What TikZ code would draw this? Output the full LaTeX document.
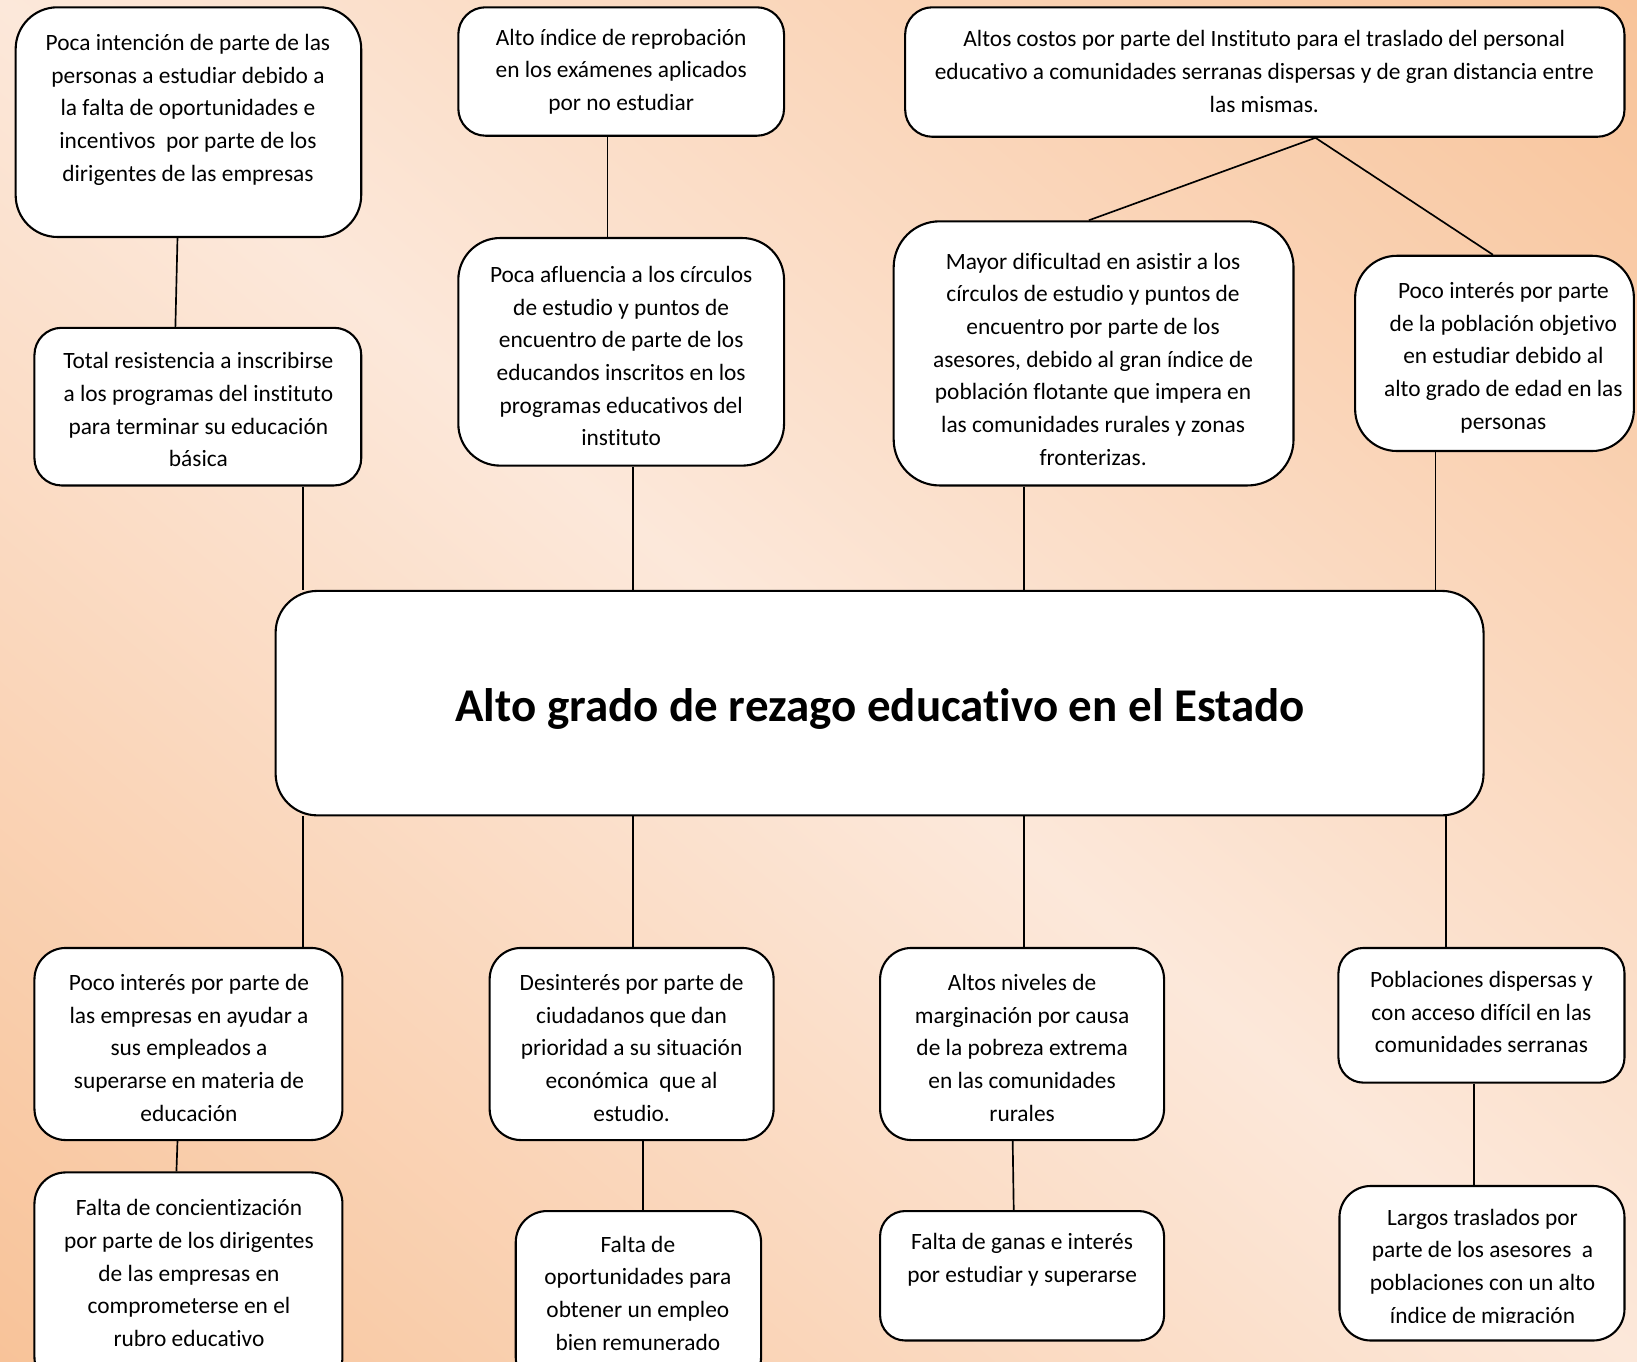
\documentclass[tikz,border=0pt]{standalone}
\usepackage{fontspec}
\setmainfont{Carlito}[Ligatures=NoCommon]
\usetikzlibrary{fit}
\definecolor{bgor}{RGB}{248,195,153}
\definecolor{bglt}{RGB}{252,232,218}
\begin{document}
\begin{tikzpicture}[x=0.5pt,y=-0.5pt,
 box/.style={draw=black,line width=1pt,fill=white,inner sep=0pt,rounded corners=#1},
 box/.default=15pt,
 txt/.style={align=center,inner sep=0pt,font=\fontsize{11.2}{15.65}\selectfont},
 conn/.style={draw=black,line width=0.8pt}]
\clip (0,0) rectangle (1568,1304);
\begin{scope}[transform canvas={rotate around={-39.75:(784,652)}}]
\shade[top color=bgor, bottom color=bgor, middle color=bglt] (-246,-351) rectangle (1814,1655);
\end{scope}

% boxes
\node[box=20pt, fit={(15,7) (346,227)}] (A1) {};
\node[box=13pt, fit={(33,314) (346,465)}] (A2) {};
\node[box=13pt, fit={(439,7) (751,130)}] (B1) {};
\node[box=20pt, fit={(439,228) (751,446)}] (B2) {};
\node[box=13pt, fit={(867,7) (1556,131)}] (C1) {};
\node[box=22pt, fit={(856,212) (1239,465)}] (C2) {};
\node[box=20pt, fit={(1298,245) (1565,432)}] (C3) {};
\node[box=20pt, fit={(264,566) (1421,781)}] (M) {};
\node[box=15pt, fit={(33,908) (328,1092)}] (D1) {};
\node[box=15pt, fit={(33,1123) (328,1330)}] (D2) {};
\node[box=15pt, fit={(469,908) (741,1092)}] (E1) {};
\node[box=15pt, fit={(494,1160) (729,1330)}] (E2) {};
\node[box=15pt, fit={(843,908) (1115,1092)}] (F1) {};
\node[box=12pt, fit={(843,1160) (1115,1284)}] (F2) {};
\node[box=12pt, fit={(1282,908) (1556,1037)}] (G1) {};
\node[box=15pt, fit={(1283,1136) (1556,1284)}] (G2) {};

% texts
\node[txt] (A1t) at (180,105) {Poca intención de parte de las\\personas a estudiar debido a\\la falta de oportunidades e\\incentivos\ \ por parte de los\\dirigentes de las empresas};
\node[txt] (A2t) at (190,392.5) {Total resistencia a inscribirse\\a los programas del instituto\\para terminar su educación\\básica};
\node[txt] (B1t) at (595,68.5) {Alto índice de reprobación\\en los exámenes aplicados\\por no estudiar};
\node[txt] (B2t) at (595,341) {Poca afluencia a los círculos\\de estudio y puntos de\\encuentro de parte de los\\educandos inscritos en los\\programas educativos del\\instituto};
\node[txt] (C1t) at (1211,68.5) {Altos costos por parte del Instituto para el traslado del personal\\educativo a comunidades serranas dispersas y de gran distancia entre\\las mismas.};
\node[txt] (C2t) at (1047,344) {Mayor dificultad en asistir a los\\círculos de estudio y puntos de\\encuentro por parte de los\\asesores, debido al gran índice de\\población flotante que impera en\\las comunidades rurales y zonas\\fronterizas.};
\node[txt] (C3t) at (1440,342.5) {Poco interés por parte\\de la población objetivo\\en estudiar debido al\\alto grado de edad en las\\personas};
\node[txt,font=\fontsize{22.5}{27}\selectfont\bfseries] (Mt) at (843,679) {Alto grado de rezago educativo en el Estado};
\node[txt] (D1t) at (181,1003.5) {Poco interés por parte de\\las empresas en ayudar a\\sus empleados a\\superarse en materia de\\educación};
\node[txt] (D2t) at (181,1219.5) {Falta de concientización\\por parte de los dirigentes\\de las empresas en\\comprometerse en el\\rubro educativo};
\node[txt] (E1t) at (605,1003.5) {Desinterés por parte de\\ciudadanos que dan\\prioridad a su situación\\económica\ \ que al\\estudio.};
\node[txt] (E2t) at (611,1238.5) {Falta de\\oportunidades para\\obtener un empleo\\bien remunerado};
\node[txt] (F1t) at (979,1003.5) {Altos niveles de\\marginación por causa\\de la pobreza extrema\\en las comunidades\\rurales};
\node[txt] (F2t) at (979,1206.5) {Falta de ganas e interés\\por estudiar y superarse};
\node[txt] (G1t) at (1419,969.5) {Poblaciones dispersas y\\con acceso difícil en las\\comunidades serranas};
\begin{scope}
\clip (1283,1136) rectangle (1556,1267);
\node[txt] (G2t) at (1420,1214.5) {Largos traslados por\\parte de los asesores\ \ a\\poblaciones con un alto\\índice de migración};
\end{scope}

% connectors
\draw[conn] (A1.south -| 170,0) -- (A2.north -| 168,0);
\draw[conn] (B1.south -| 582,0) -- (B2.north -| 582,0);
\draw[conn] (C1.south -| 1260,0) -- (C2.north -| 1043,0);
\draw[conn] (C1.south -| 1260,0) -- (C3.north -| 1430,0);
\draw[conn] (A2.south -| 290,0) -- (M.north -| 290,0);
\draw[conn] (B2.south -| 606,0) -- (M.north -| 606,0);
\draw[conn] (C2.south -| 981,0) -- (M.north -| 981,0);
\draw[conn] (C3.south -| 1375,0) -- (M.north -| 1375,0);
\draw[conn] (M.south -| 290,0) -- (D1.north -| 290,0);
\draw[conn] (M.south -| 606,0) -- (E1.north -| 606,0);
\draw[conn] (M.south -| 981,0) -- (F1.north -| 981,0);
\draw[conn] (M.south -| 1385,0) -- (G1.north -| 1385,0);
\draw[conn] (D1.south -| 170,0) -- (D2.north -| 169,0);
\draw[conn] (E1.south -| 616,0) -- (E2.north -| 616,0);
\draw[conn] (F1.south -| 970,0) -- (F2.north -| 971,0);
\draw[conn] (G1.south -| 1412,0) -- (G2.north -| 1412,0);
\end{tikzpicture}
\end{document}
